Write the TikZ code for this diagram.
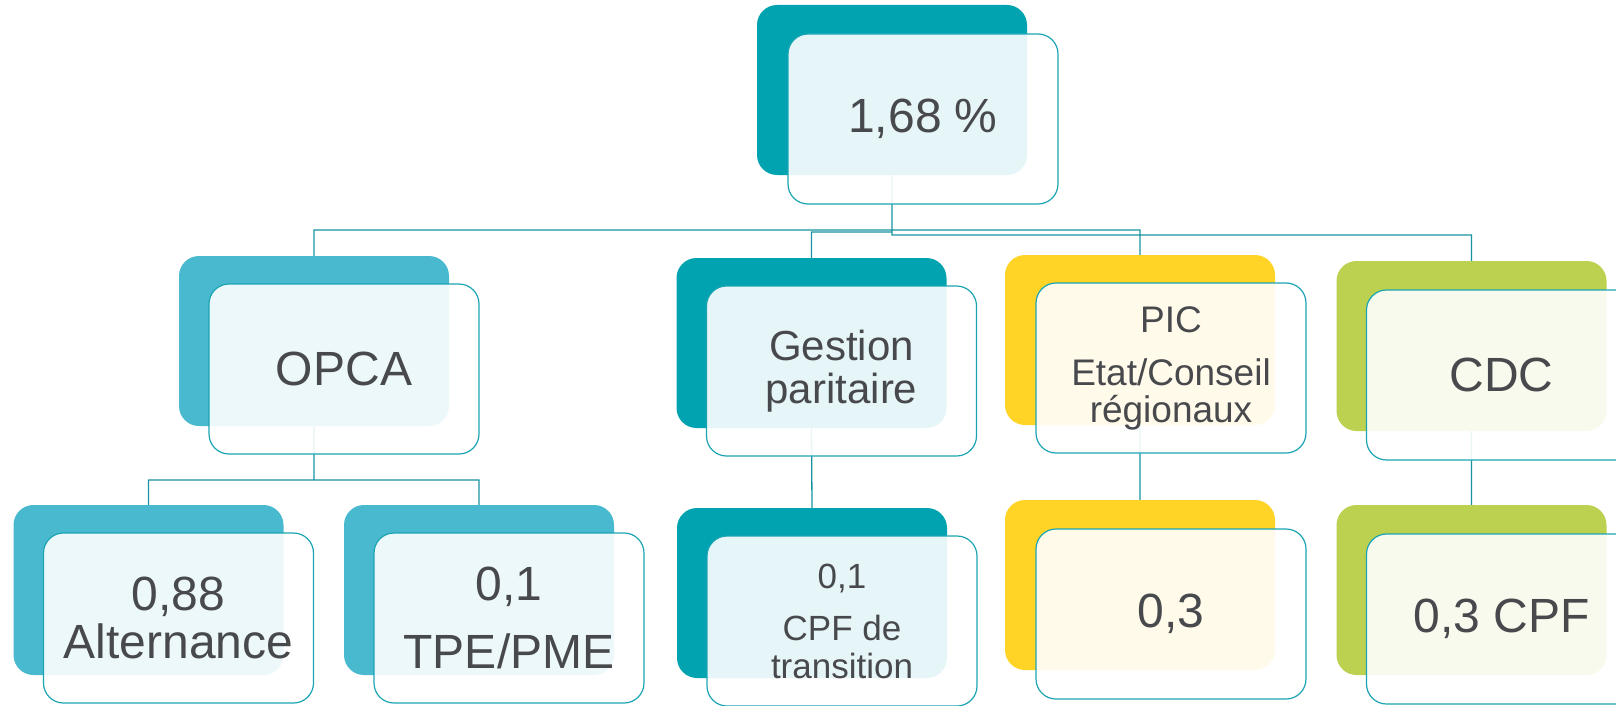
\documentclass[tikz,border=0pt]{standalone}
\usepackage{fontspec}
\setmainfont{Liberation Sans}
\usetikzlibrary{positioning}
\definecolor{tealdunkel}{HTML}{01A3B1}
\definecolor{teallicht}{HTML}{48B9CE}
\definecolor{gelb}{HTML}{FFD426}
\definecolor{gruen}{HTML}{BCD14F}
\definecolor{rand}{HTML}{1BA5B3}
\definecolor{linie}{HTML}{17939F}
\definecolor{schrift}{HTML}{48494D}
\pgfdeclarelayer{hinten}
\pgfsetlayers{hinten,main}

\begin{document}
\begin{tikzpicture}[x=1pt,y=-1pt,
  back/.style={rounded corners=20pt, minimum width=270pt, minimum height=170pt, inner sep=0pt, outer sep=0pt},
  front/.style={rounded corners=20pt, minimum width=270pt, minimum height=170pt, inner sep=0pt, outer sep=0pt,
    draw=rand, line width=1.2pt, fill=white, fill opacity=0.9, text opacity=1, text=schrift, align=center,
    font=\fontsize{48}{48}\selectfont},
  link/.style={draw=linie, line width=1.3pt}]
\useasboundingbox (0,0) rectangle (1616,706);

%Hintergrund
\node (topb) [back, fill=tealdunkel] at (892,90) {};
\node (opcab) [back, fill=teallicht] at (314,341) {};
\node (gpb) [back, fill=tealdunkel] at (811.5,343) {};
\node (picb) [back, fill=gelb] at (1140,340) {};
\node (cdcb) [back, fill=gruen] at (1471.5,346) {};
\node (altb) [back, fill=teallicht] at (148.5,590) {};
\node (tpeb) [back, fill=teallicht] at (479,590) {};
\node (cpftb) [back, fill=tealdunkel] at (812,593) {};
\node (picwb) [back, fill=gelb] at (1140,585) {};
\node (cdcwb) [back, fill=gruen] at (1471.5,590) {};

%Kaesten
\node (top) [front, below right=29pt and 31pt of topb.north west] {1,68 \%};
\node (opca) [front, below right=28pt and 30pt of opcab.north west] {OPCA};
\node (gp) [front, below right=28pt and 30pt of gpb.north west, font=\fontsize{42}{43}\selectfont] {Gestion\\paritaire};
\node (pic) [front, below right=28pt and 31pt of picb.north west, font=\fontsize{37}{37}\selectfont] {PIC\\[16pt]Etat/Conseil\\régionaux};
\node (cdc) [front, below right=29pt and 30pt of cdcb.north west] {CDC};
\node (alt) [front, below right=28pt and 30pt of altb.north west] {0,88\\Alternance};
\node (tpe) [front, below right=28pt and 30pt of tpeb.north west] {0,1\\[20pt]TPE/PME};
\node (cpft) [front, below right=28pt and 30pt of cpftb.north west, font=\fontsize{35}{38}\selectfont] {0,1\\[14pt]CPF de\\transition};
\node (picw) [front, below right=29pt and 31pt of picwb.north west] {0,3};
\node (cdcw) [front, below right=29pt and 30pt of cdcwb.north west] {0,3 CPF};

%Verbindungen
\begin{pgfonlayer}{hinten}
\path[link]
(topb.south) -- ++(0,55) -| (opcab.north)
(topb.south) -- ++(0,57) -| (gpb.north)
(topb.south) -- ++(0,55) -| (picb.north)
(topb.south) -- ++(0,60) -| (cdcb.north)

(opcab.south) -- ++(0,54) -| (altb.north)
(opcab.south) -- ++(0,54) -| (tpeb.north)

(gpb.south) -- (cpftb.north)
(picb.south) -- (picwb.north)
(cdcb.south) -- (cdcwb.north)
;
\end{pgfonlayer}
\end{tikzpicture}
\end{document}
